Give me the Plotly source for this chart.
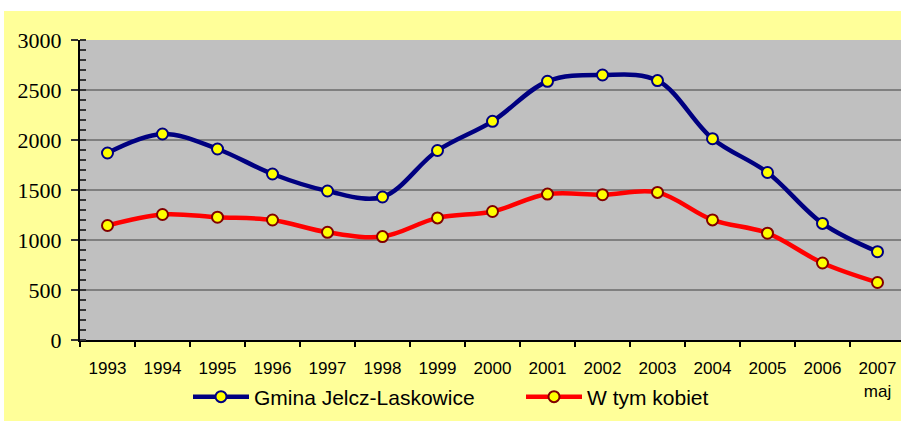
import plotly.graph_objects as go

YEARS = ["1993", "1994", "1995", "1996", "1997", "1998", "1999", "2000",
         "2001", "2002", "2003", "2004", "2005", "2006", "2007"]
TICK_TEXT = YEARS[:-1] + ["2007<br>maj"]

GMINA = [1870, 2060, 1910, 1660, 1490, 1430, 1895, 2187,
         2587, 2650, 2594, 2013, 1675, 1166, 883]
KOBIETY = [1145, 1255, 1228, 1200, 1077, 1034, 1221, 1285,
           1459, 1453, 1476, 1201, 1068, 770, 575]

SERIES = [
    ("Gmina Jelcz-Laskowice", GMINA, "#000080", "#000080"),
    ("W tym kobiet", KOBIETY, "#FF0000", "#800000"),
]

fig = go.Figure()
for name, values, color, edge in SERIES:
    fig.add_trace(go.Scatter(
        x=YEARS, y=values, name=name,
        mode="lines+markers",
        line=dict(color=color, width=4.5, shape="spline", smoothing=1),
        marker=dict(color="#FFFF00", size=11, line=dict(color=edge, width=2)),
    ))

W, H = 901, 421
ML, MT, MB = 80, 40, 81
pw, ph = W - ML, H - MT - MB

fig.update_layout(
    width=W, height=H,
    margin=dict(l=ML, r=0, t=MT, b=MB),
    paper_bgcolor="white",
    plot_bgcolor="rgba(0,0,0,0)",
    font=dict(family="Liberation Sans, Arial", color="black"),
    showlegend=True,
    legend=dict(
        orientation="h", x=(188 - ML) / pw, xanchor="left",
        y=(H - MB - 397) / ph, yanchor="middle",
        font=dict(size=21, family="Liberation Sans, Arial"),
        bgcolor="rgba(0,0,0,0)", itemwidth=56, entrywidth=262,
    ),
    shapes=[
        dict(type="rect", xref="paper", yref="paper", layer="below",
             x0=(4 - ML) / pw, x1=1.01, y0=-MB / ph - 0.01, y1=1 + (MT - 11) / ph,
             fillcolor="#FFFF99", line=dict(width=0)),
        dict(type="rect", xref="paper", yref="paper", layer="below",
             x0=0, x1=1, y0=0, y1=1,
             fillcolor="#C0C0C0", line=dict(width=0)),
    ],
)

fig.update_xaxes(
    type="category", tickvals=YEARS, ticktext=TICK_TEXT,
    range=[-0.5, 14.5 - 4 / 55], tickson="boundaries",
    ticks="outside", ticklen=5, tickwidth=2, tickcolor="black",
    showline=True, linecolor="black", linewidth=2,
    showgrid=False, zeroline=False,
    tickfont=dict(size=17, family="Liberation Sans, Arial"),
    ticklabelstandoff=12,
)
fig.update_yaxes(
    range=[0, 3000], dtick=500,
    ticks="outside", ticklen=7, tickwidth=2, tickcolor="#333333",
    showline=True, linecolor="black", linewidth=2,
    showgrid=True, gridcolor="#808080", gridwidth=2,
    zeroline=False,
    tickfont=dict(size=22, family="Liberation Serif, Times New Roman"),
    ticklabelstandoff=5,
    minor=dict(dtick=100, ticks="inside", ticklen=6, tickwidth=2,
               tickcolor="#333333", showgrid=False),
)

# the page body has a default 8px margin; drop it so the chart fills the window
fig.write_html("out.html", config={"displayModeBar": False},
               post_script="document.body.style.margin='0';")
